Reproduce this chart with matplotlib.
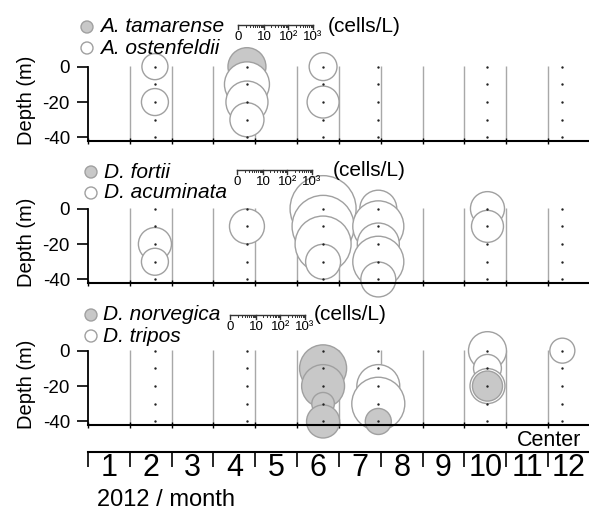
import numpy as np
import matplotlib
matplotlib.use("Agg")
import matplotlib.pyplot as plt

plt.rcParams['font.family'] = ['Liberation Sans', 'DejaVu Sans']
plt.rcParams['axes.unicode_minus'] = False

# sampling dates (months since 1 Jan 2012) and depths
stations = [1.60, 3.80, 5.62, 6.94, 9.55, 11.34]
depths = [0, -10, -20, -30, -40]
months = list(range(1, 13))

# cells/L, rows = stations, cols = depths (0 = not detected)
A_tamarense = [[0, 0, 0, 0, 0],
               [32, 0, 0, 0, 0],
               [0, 0, 0, 0, 0],
               [0, 0, 0, 0, 0],
               [0, 0, 0, 0, 0],
               [0, 0, 0, 0, 0]]
A_ostenfeldii = [[10, 0, 11, 0, 0],
                 [0, 62, 47, 22, 0],
                 [12, 0, 18, 0, 0],
                 [0, 0, 0, 0, 0],
                 [0, 0, 0, 0, 0],
                 [0, 0, 0, 0, 0]]
D_fortii = [[0, 0, 0, 0, 0]] * 6
D_acuminata = [[0, 0, 20, 11, 0],
               [0, 24, 0, 0, 0],
               [436, 301, 173, 24, 0],
               [29, 109, 47, 109, 24],
               [22, 18, 0, 0, 0],
               [0, 0, 0, 0, 0]]
D_norvegica = [[0, 0, 0, 0, 0],
               [0, 0, 0, 0, 0],
               [0, 75, 51, 7, 20],
               [0, 0, 0, 0, 10],
               [0, 0, 15, 0, 0],
               [0, 0, 0, 0, 0]]
D_tripos = [[0, 0, 0, 0, 0],
            [0, 0, 0, 0, 0],
            [0, 0, 0, 0, 0],
            [0, 0, 51, 131, 0],
            [32, 12, 24, 0, 0],
            [9, 0, 0, 0, 0]]

panels = [("A. tamarense", A_tamarense, "A. ostenfeldii", A_ostenfeldii),
          ("D. fortii", D_fortii, "D. acuminata", D_acuminata),
          ("D. norvegica", D_norvegica, "D. tripos", D_tripos)]

W, H = 589, 511
PX_MONTH = 41.83
PX_DECADE = 25.0     # bubble diameter in px per decade of (cells+1)
PX_M = 1.77
GREY = '#c8c8c8'
EDGE = '#a0a0a0'


def fx(px):
    return px / W


def fy(py):
    return 1 - py / H


def bubble_s(cells):
    d = PX_DECADE * np.log10(np.asarray(cells, float) + 1)
    return (d * 0.72) ** 2


fig = plt.figure(figsize=(W / 100, H / 100), dpi=100)

panel_bottoms = [141, 283, 425]
for (gname, gdata, wname, wdata), yb in zip(panels, panel_bottoms):
    ax = fig.add_axes([fx(88), fy(yb), 501 / W, 46 * PX_M / H])
    ax.set_xlim(0, 501 / PX_MONTH)
    ax.set_ylim(-42, 4)
    ax.vlines(range(1, 12), -42, 0.5, color='#a8a8a8', lw=1, zorder=0)

    xs, ys, ss, fcs = [], [], [], []
    for i, x in enumerate(stations):
        for j, d in enumerate(depths):
            for data, fc in ((wdata, 'white'), (gdata, GREY)):
                if data[i][j] > 0:
                    xs.append(x)
                    ys.append(d)
                    ss.append(bubble_s(data[i][j]))
                    fcs.append(fc)
    ax.scatter(xs, ys, s=ss, facecolors=fcs, edgecolors=EDGE, linewidths=1,
               clip_on=False, zorder=2)
    sx = np.repeat(stations, len(depths))
    sy = np.tile(depths, len(stations))
    ax.scatter(sx, sy, s=3, c='#222222', linewidths=0, zorder=3, clip_on=False)

    for side in ('top', 'right'):
        ax.spines[side].set_visible(False)
    ax.spines['left'].set_bounds(-42, 0)
    ax.spines['left'].set_linewidth(1.3)
    ax.spines['bottom'].set_linewidth(1.5)
    ax.set_yticks([0, -20, -40])
    ax.set_yticklabels(['0', '-20', '-40'], fontsize=13.5)
    ax.tick_params(axis='y', length=8, width=1.2, pad=5)
    ax.set_xticks(range(0, 12))
    ax.set_xticklabels([])
    ax.tick_params(axis='x', direction='inout', length=4, width=1)
    ax.set_ylabel('Depth (m)', fontsize=14.5, labelpad=5)
    ax.patch.set_alpha(0)

# overlay for legends and scale rulers (pixel coordinates)
ov = fig.add_axes([0, 0, 1, 1])
ov.set_xlim(0, W)
ov.set_ylim(H, 0)
ov.axis('off')

legend_pos = [(87, 27, 100), (91, 172, 104), (91, 315, 103)]
ruler_pos = [(238, 25, 328, 27), (237, 170, 333, 170), (230, 315, 314, 314)]
for (gname, gdata, wname, wdata), (lx, ly, tx), (rx, ry, cx, cy) in zip(panels, legend_pos, ruler_pos):
    ov.scatter([lx, lx], [ly, ly + 21], s=(12 * 0.72) ** 2, facecolors=[GREY, 'white'],
               edgecolors=EDGE, linewidths=1)
    ov.text(tx, ly, gname, fontsize=15, style='italic', va='center', ha='left')
    ov.text(tx, ly + 21, wname, fontsize=15, style='italic', va='center', ha='left')
    # log ruler
    ov.plot([rx, rx + 3 * PX_DECADE], [ry, ry], color='#333333', lw=1)
    for dec in range(3):
        for k in range(1, 10):
            v = k * 10 ** dec
            p = rx + PX_DECADE * np.log10(v + 1)
            ov.plot([p, p], [ry, ry + 2.5], color='#333333', lw=0.7)
    for v, lab in zip([0, 10, 100, 1000], ['0', '10', '10²', '10³']):
        p = rx + PX_DECADE * np.log10(v + 1)
        ov.plot([p, p], [ry, ry + 4], color='#333333', lw=1)
        ov.text(p, ry + 6, lab, fontsize=9.5, ha='center', va='top')
    ov.text(cx, cy, '(cells/L)', fontsize=15, ha='left', va='center')

ov.text(549, 440, 'Center', fontsize=15.5, ha='center', va='center')

# month axis
axm = fig.add_axes([fx(88), fy(467), 501 / W, 15 / H])
axm.set_xlim(0, 501 / PX_MONTH)
axm.set_ylim(0, 1)
for side in ('bottom', 'left', 'right'):
    axm.spines[side].set_visible(False)
axm.spines['top'].set_linewidth(1.5)
axm.set_yticks([])
axm.xaxis.set_ticks_position('top')
axm.set_xticks(range(0, 12))
axm.set_xticklabels([])
axm.tick_params(axis='x', direction='in', length=11, width=1.2)
axm.patch.set_alpha(0)
for m in months:
    axm.text(m - 0.5, 0.95, str(m), fontsize=22, ha='center', va='top', clip_on=False)
axm.text(0.22, -2.2, '2012 / month', fontsize=17, ha='left', va='center', clip_on=False)

fig.savefig('out.png', dpi=100)
